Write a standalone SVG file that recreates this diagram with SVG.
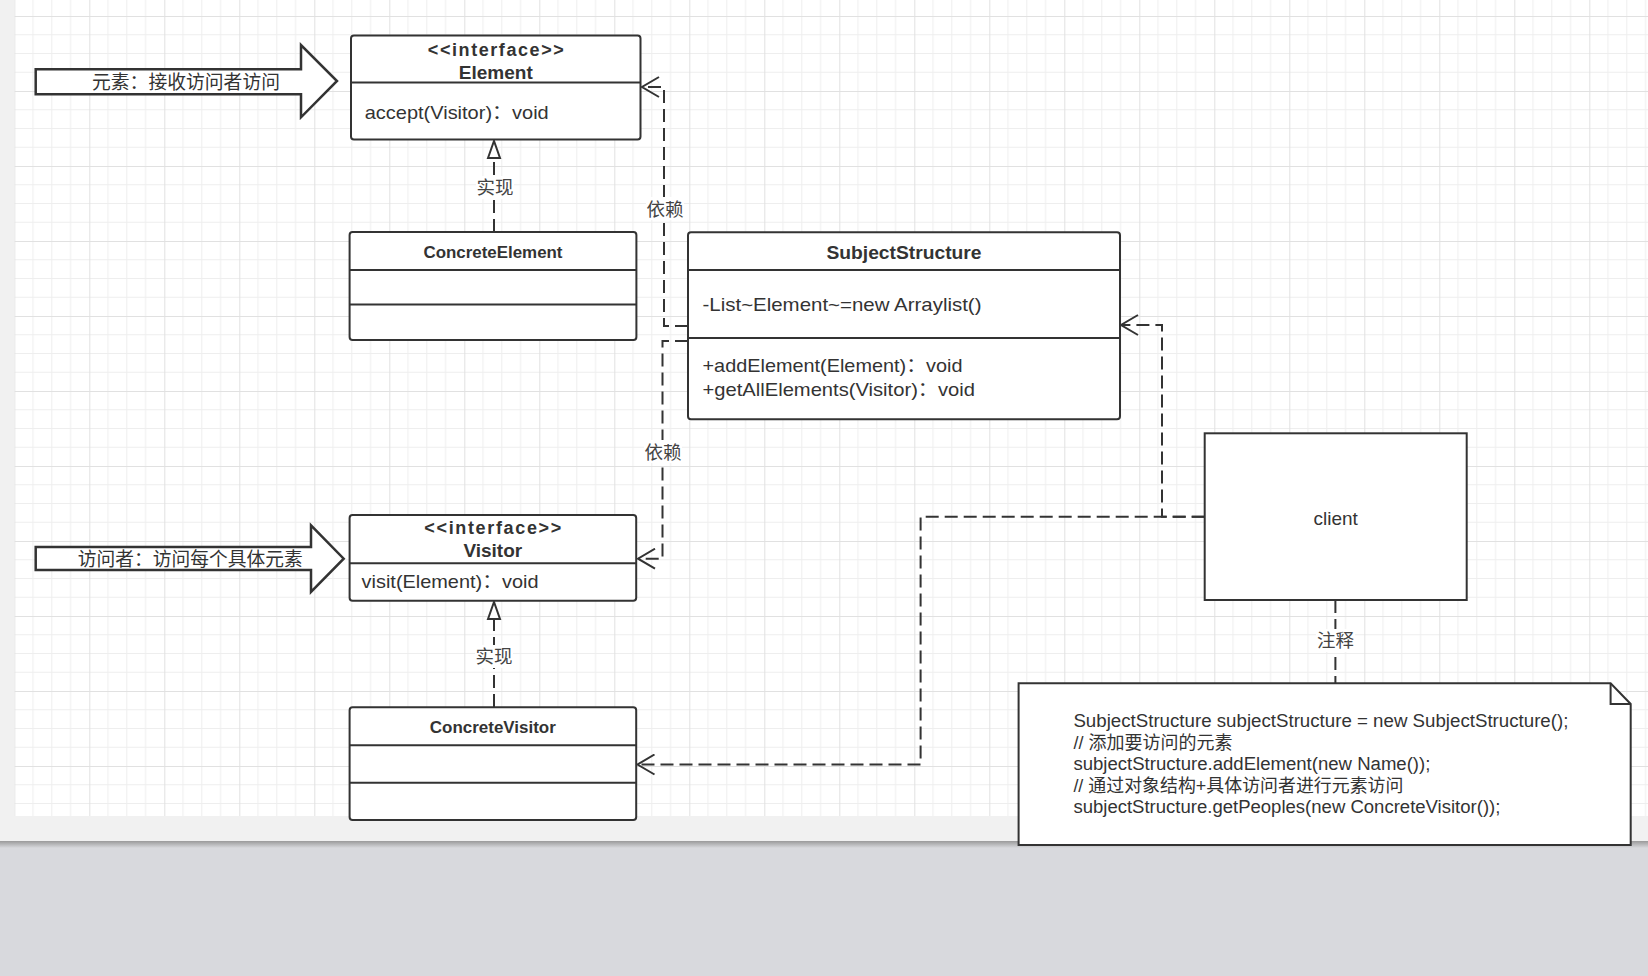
<svg xmlns="http://www.w3.org/2000/svg" width="1648" height="976" viewBox="0 0 1648 976">
<defs>
<pattern id="grid" x="14.3" y="16" width="75" height="75" patternUnits="userSpaceOnUse">
<path d="M18.75 0V75M37.5 0V75M56.25 0V75M0 18.75H75M0 37.5H75M0 56.25H75" stroke="#eeeeee" stroke-width="1" fill="none"/>
<path d="M0.5 0V75M0 0.5H75" stroke="#e1e1e1" stroke-width="1" fill="none"/>
</pattern>
<linearGradient id="shadow" x1="0" y1="0" x2="0" y2="1">
<stop offset="0" stop-color="#9a9a9a"/>
<stop offset="1" stop-color="#d8d9dd"/>
</linearGradient>
<marker id="open" viewBox="0 0 20 22" refX="18" refY="11" markerWidth="20" markerHeight="22" markerUnits="userSpaceOnUse" orient="auto">
<path d="M1,1 L18,11 L1,21" fill="none" stroke="#333" stroke-width="2"/>
</marker>
<marker id="tri" viewBox="0 0 20 16" refX="18" refY="8" markerWidth="20" markerHeight="16" markerUnits="userSpaceOnUse" orient="auto">
<path d="M1,2 L18,8 L1,14 Z" fill="#fff" stroke="#333" stroke-width="2"/>
</marker>
<style>
.box{fill:#fff;stroke:#333;stroke-width:2}
.div{stroke:#333;stroke-width:2}
.arrowshape{fill:#fff;stroke:#333;stroke-width:2.5;stroke-linejoin:miter}
text{font-family:"Liberation Sans","Noto Sans CJK SC",sans-serif;fill:#333}
.b{font-weight:bold}
.s16{font-size:16px}
.s18{font-size:18px}
.s19{font-size:19px}
.lbl{font-size:18.5px;fill:#444}
.lblbg{fill:#fff}
.conn path{fill:none;stroke:#333;stroke-width:2;stroke-dasharray:13 6}
</style>
</defs>

<!-- background -->
<rect x="0" y="0" width="1648" height="976" fill="#f1f1f1"/>
<rect x="14.3" y="0" width="1634" height="816" fill="#fff"/>
<rect x="14.3" y="0" width="1634" height="816" fill="url(#grid)"/>
<rect x="0" y="841" width="1648" height="135" fill="#d8d9dd"/>
<rect x="0" y="841" width="1648" height="7" fill="url(#shadow)"/>

<!-- connectors -->
<g id="connectors" class="conn">
<path d="M688,326 H664 V87 H642" marker-end="url(#open)"/>
<path d="M688,341 H662.5 V558.7 H638" marker-end="url(#open)"/>
<path d="M1204.7,516.7 H1162 V325 H1121" marker-end="url(#open)"/>
<path d="M1204.7,516.7 H920.6 V764.5 H637.5" marker-end="url(#open)"/>
<path d="M494,232 V141" marker-end="url(#tri)"/>
<path d="M494,707 V602" marker-end="url(#tri)"/>
<path d="M1335.4,600 V683.3"/>
</g>

<!-- connector labels -->
<g id="labels">
<rect class="lblbg" x="646" y="197" width="38" height="23"/>
<text class="lbl" x="665" y="215.5" text-anchor="middle">依赖</text>
<rect class="lblbg" x="644" y="440" width="38" height="23"/>
<text class="lbl" x="663" y="458.5" text-anchor="middle">依赖</text>
<rect class="lblbg" x="476" y="176" width="38" height="23"/>
<text class="lbl" x="495" y="194" text-anchor="middle">实现</text>
<rect class="lblbg" x="475" y="645" width="38" height="23"/>
<text class="lbl" x="494" y="663" text-anchor="middle">实现</text>
<rect class="lblbg" x="1316" y="629" width="39" height="23"/>
<text class="lbl" x="1335.4" y="647" text-anchor="middle">注释</text>
</g>

<!-- block arrows -->
<g id="arrow-element">
<path class="arrowshape" d="M35.7,69.3 L301,69.3 L301,45 L337,81 L301,117.3 L301,94.3 L35.7,94.3 Z"/>
<text class="s19" x="186" y="88.5" text-anchor="middle" textLength="188" lengthAdjust="spacingAndGlyphs">元素：接收访问者访问</text>
</g>
<g id="arrow-visitor">
<path class="arrowshape" d="M35.7,547 L311,547 L311,525.3 L343.7,558.7 L311,592 L311,570 L35.7,570 Z"/>
<text class="s19" x="190.3" y="565.5" text-anchor="middle" textLength="225" lengthAdjust="spacingAndGlyphs">访问者：访问每个具体元素</text>
</g>

<!-- Element -->
<g id="element">
<rect class="box" x="351" y="35.5" width="289.5" height="104" rx="3"/>
<line class="div" x1="351" y1="82.5" x2="640.5" y2="82.5"/>
<text class="b s18" x="495.8" y="55.5" text-anchor="middle" textLength="136" lengthAdjust="spacing">&lt;&lt;interface&gt;&gt;</text>
<text class="b s19" x="495.8" y="78.5" text-anchor="middle">Element</text>
<text class="s19" x="364.7" y="118.5" textLength="184" lengthAdjust="spacingAndGlyphs">accept(Visitor)：void</text>
</g>

<!-- ConcreteElement -->
<g id="concrete-element">
<rect class="box" x="349.6" y="232" width="286.8" height="108" rx="3"/>
<line class="div" x1="349.6" y1="270" x2="636.4" y2="270"/>
<line class="div" x1="349.6" y1="304.5" x2="636.4" y2="304.5"/>
<text class="b s16" x="493" y="257.5" text-anchor="middle" textLength="139" lengthAdjust="spacingAndGlyphs">ConcreteElement</text>
</g>

<!-- SubjectStructure -->
<g id="subject-structure">
<rect class="box" x="688" y="232.3" width="432" height="187" rx="3"/>
<line class="div" x1="688" y1="270" x2="1120" y2="270"/>
<line class="div" x1="688" y1="338" x2="1120" y2="338"/>
<text class="b s19" x="904" y="258.5" text-anchor="middle" textLength="155" lengthAdjust="spacingAndGlyphs">SubjectStructure</text>
<text class="s19" x="702.5" y="310.5" textLength="279" lengthAdjust="spacingAndGlyphs">-List~Element~=new Arraylist()</text>
<text class="s19" x="702.5" y="372" textLength="260" lengthAdjust="spacingAndGlyphs">+addElement(Element)：void</text>
<text class="s19" x="702.5" y="395.7" textLength="272.5" lengthAdjust="spacingAndGlyphs">+getAllElements(Visitor)：void</text>
</g>

<!-- Visitor -->
<g id="visitor">
<rect class="box" x="349.6" y="515" width="286.6" height="85.7" rx="3"/>
<line class="div" x1="349.6" y1="563.3" x2="636.2" y2="563.3"/>
<text class="b s18" x="492.8" y="534" text-anchor="middle" textLength="137" lengthAdjust="spacing">&lt;&lt;interface&gt;&gt;</text>
<text class="b s19" x="492.8" y="556.5" text-anchor="middle">Visitor</text>
<text class="s19" x="361.6" y="588" textLength="177" lengthAdjust="spacingAndGlyphs">visit(Element)：void</text>
</g>

<!-- ConcreteVisitor -->
<g id="concrete-visitor">
<rect class="box" x="349.6" y="707.3" width="286.6" height="112.7" rx="3"/>
<line class="div" x1="349.6" y1="745.3" x2="636.2" y2="745.3"/>
<line class="div" x1="349.6" y1="782.7" x2="636.2" y2="782.7"/>
<text class="b s16" x="492.8" y="732.5" text-anchor="middle" textLength="126" lengthAdjust="spacingAndGlyphs">ConcreteVisitor</text>
</g>

<!-- client -->
<g id="client">
<rect class="box" x="1204.7" y="433.3" width="262" height="166.7"/>
<text class="s19" x="1335.7" y="524.5" text-anchor="middle">client</text>
</g>

<!-- note -->
<g id="note">
<path class="box" d="M1018.6,683.3 H1610.6 L1630.7,704 V845 H1018.6 Z"/>
<path d="M1610.6,683.3 V704 H1630.7" fill="none" stroke="#333" stroke-width="2"/>
<text class="s18" x="1073.4" y="727" textLength="495" lengthAdjust="spacingAndGlyphs">SubjectStructure subjectStructure = new SubjectStructure();</text>
<text class="s18" x="1073.4" y="748.5" textLength="159" lengthAdjust="spacingAndGlyphs">// 添加要访问的元素</text>
<text class="s18" x="1073.4" y="770" textLength="357" lengthAdjust="spacingAndGlyphs">subjectStructure.addElement(new Name());</text>
<text class="s18" x="1073.4" y="791.5" textLength="330" lengthAdjust="spacingAndGlyphs">// 通过对象结构+具体访问者进行元素访问</text>
<text class="s18" x="1073.4" y="813" textLength="427" lengthAdjust="spacingAndGlyphs">subjectStructure.getPeoples(new ConcreteVisitor());</text>
</g>
</svg>
